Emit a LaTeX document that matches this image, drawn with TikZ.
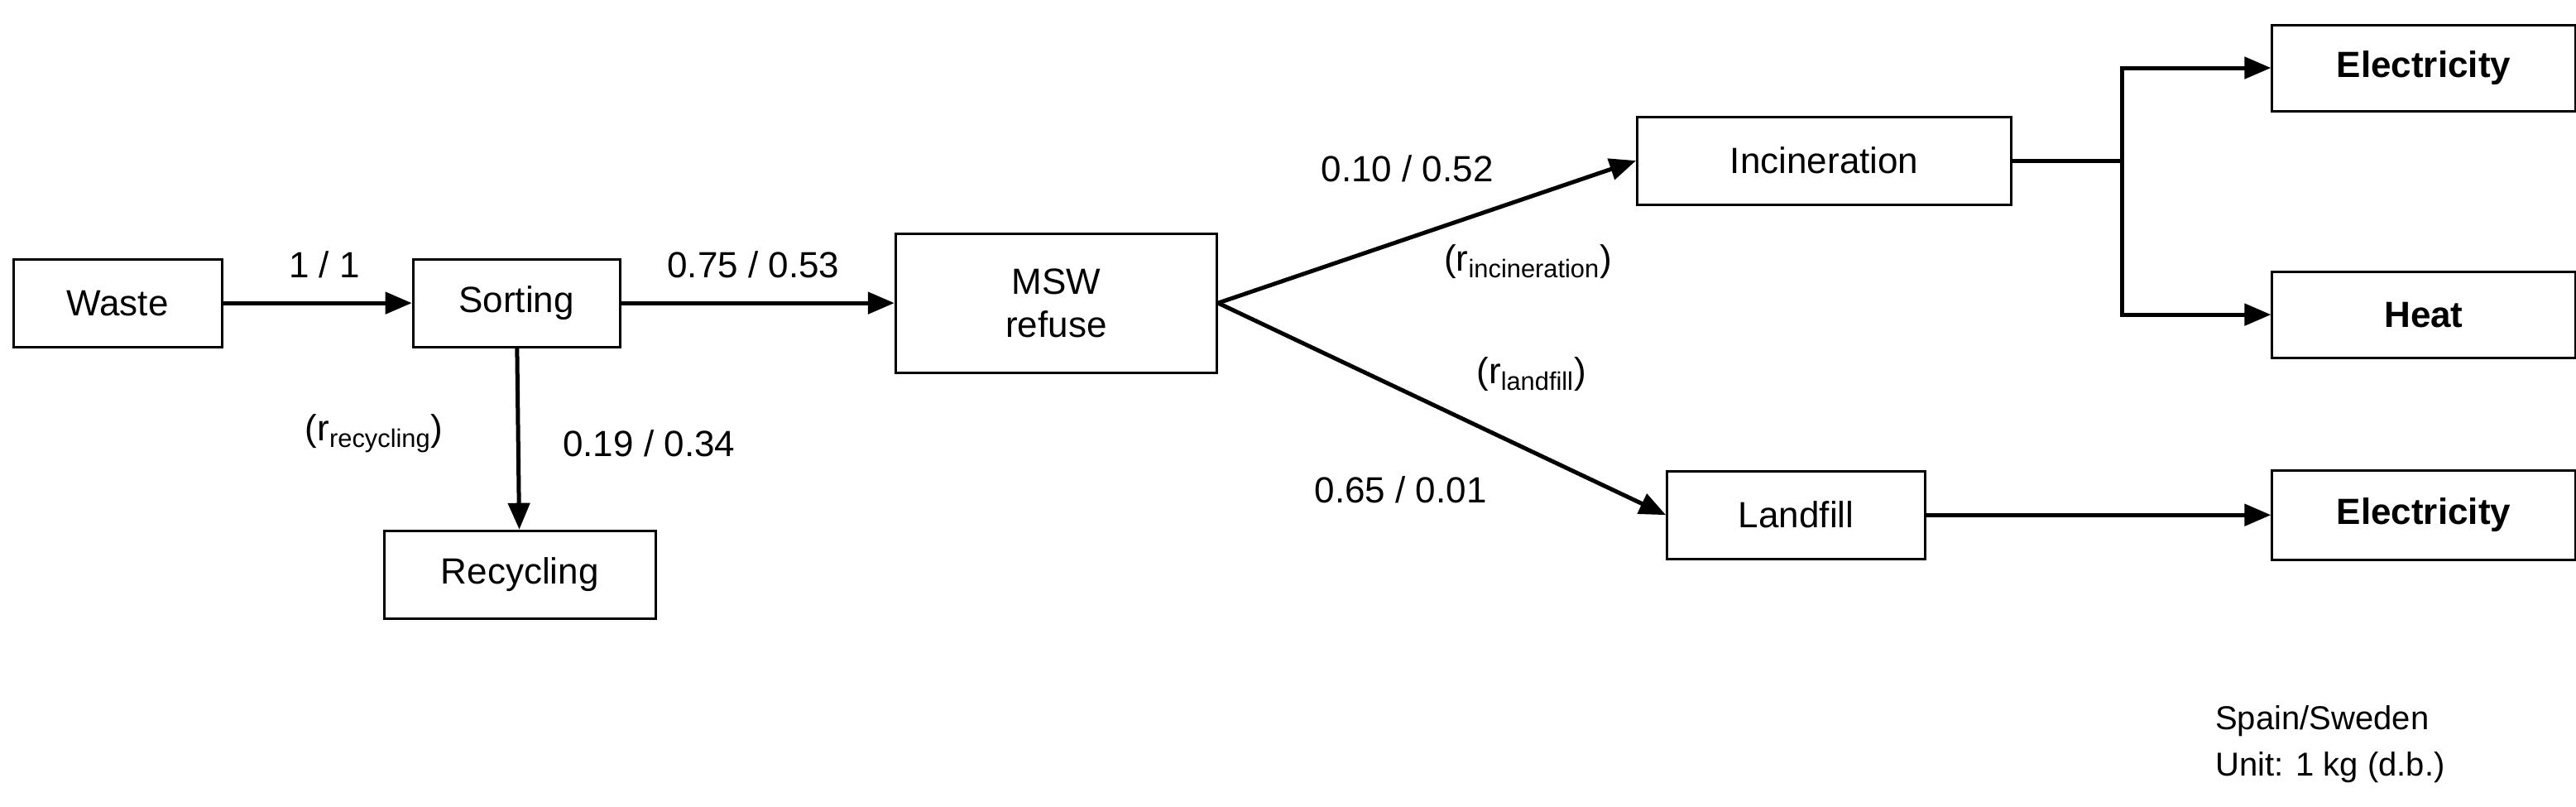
\documentclass[tikz,border=0pt]{standalone}
\usepackage{fontspec}
\setmainfont{Liberation Sans}
\usetikzlibrary{arrows.meta}
\begin{document}
\begin{tikzpicture}[x=1pt,y=-1pt,
 box/.style={draw,line width=1.5pt,minimum height=53pt,inner sep=0pt,font=\fontsize{22}{26}\selectfont,align=center},
 lab/.style={font=\fontsize{22}{26}\selectfont,inner sep=0pt},
 arr/.style={line width=2.5pt,-{Triangle[length=16pt,width=13pt]}},
 ln/.style={line width=2.5pt}]
\useasboundingbox (0,0) rectangle (1556,487);
\node[box,minimum width=126pt] (waste) at (71,183) {Waste};
\node[box,minimum width=125pt] (sort) at (312,183) {Sorting};
\node[box,minimum width=164pt] (rec) at (314,347) {Recycling};
\node[box,minimum width=194pt,minimum height=84pt] (msw) at (638,183) {MSW\\refuse};
\node[box,minimum width=226pt] (inc) at (1102,97) {Incineration};
\node[box,minimum width=156pt] (land) at (1085,311) {Landfill};
\node[box,minimum width=183pt,minimum height=52pt,font=\fontsize{22}{26}\selectfont\bfseries] (e1) at (1464,41) {Electricity};
\node[box,minimum width=183pt,minimum height=52pt,font=\fontsize{22}{26}\selectfont\bfseries] (heat) at (1464,190) {Heat};
\node[box,minimum width=183pt,minimum height=54pt,font=\fontsize{22}{26}\selectfont\bfseries] (e2) at (1464,311) {Electricity};
\coordinate (br) at (1282,97);
\draw[arr] (waste) -- (sort);
\draw[arr] (sort) -- (msw);
\draw[arr] (sort) -- (rec);
\draw[arr] (msw.east) -- (inc.west);
\draw[arr] (msw.east) -- (land.west);
\draw[ln] (inc.east) -- (br);
\draw[arr] (br) |- (e1.west);
\draw[arr] (br) |- (heat.west);
\draw[arr] (land) -- (e2);
\node[lab] (l1) at (196,160) {1 / 1};
\node[lab] (l2) at (455,160) {0.75 / 0.53};
\node[lab] (l3) at (226,262) {(r\textsubscript{recycling})};
\node[lab] (l4) at (392,268) {0.19 / 0.34};
\node[lab] (l5) at (850,102) {0.10 / 0.52};
\node[lab] (l6) at (923,158) {(r\textsubscript{incineration})};
\node[lab] (l7) at (925,226) {(r\textsubscript{landfill})};
\node[lab] (l8) at (846,296) {0.65 / 0.01};
\node[lab,anchor=north west,align=left,font=\fontsize{20}{28}\selectfont] (note) at (1338,426) {Spain/Sweden\\Unit: 1 kg (d.b.)};
\end{tikzpicture}
\end{document}
